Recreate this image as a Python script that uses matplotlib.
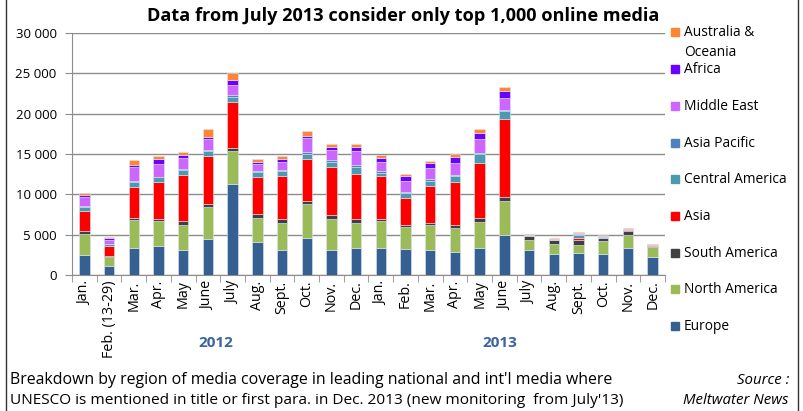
import numpy as np
import matplotlib.pyplot as plt
from matplotlib.patches import Rectangle
from matplotlib.lines import Line2D

plt.rcParams['font.family'] = ['Open Sans', 'DejaVu Sans']

months = ['Jan.', 'Feb. (13-29)', 'Mar.', 'Apr.', 'May', 'June', 'July', 'Aug.',
          'Sept.', 'Oct.', 'Nov.', 'Dec.',
          'Jan.', 'Feb.', 'Mar.', 'Apr.', 'May', 'June', 'July', 'Aug.',
          'Sept.', 'Oct.', 'Nov.', 'Dec.']

# articles per region and month (Jan 2012 .. Dec 2013)
europe = [2500, 1100, 3400, 3600, 3100, 4450, 11300, 4100, 3100, 4600, 3100, 3400,
          3350, 3250, 3100, 2850, 3400, 4900, 3100, 2600, 2700, 2600, 3350, 2200]
north_america = [2550, 1150, 3400, 3100, 3100, 3950, 4050, 3000, 3400, 4200, 3800, 3050,
                 3350, 2650, 3050, 2950, 3200, 4250, 1200, 1250, 1050, 1600, 1600, 1250]
south_america = [400, 100, 300, 300, 450, 400, 450, 400, 450, 400, 550, 500,
                 300, 300, 350, 450, 450, 500, 500, 450, 550, 350, 450, 80]
asia = [2500, 1250, 3850, 4500, 5800, 6000, 5600, 4650, 5300, 5200, 5900, 5600,
        5300, 3400, 4500, 5250, 6800, 9700, 70, 50, 300, 80, 150, 50]
central_america = [500, 200, 600, 600, 600, 600, 650, 600, 600, 600, 650, 850,
                   400, 600, 650, 750, 1100, 950, 30, 30, 400, 50, 50, 50]
asia_pacific = [100, 100, 100, 100, 100, 150, 300, 100, 150, 200, 200, 250,
                200, 150, 200, 200, 150, 150, 20, 20, 50, 30, 30, 30]
middle_east = [1100, 500, 1750, 1600, 1300, 1250, 1250, 900, 1050, 1750, 1350, 1750,
               1050, 1300, 1400, 1450, 1800, 1450, 50, 30, 120, 100, 50, 70]
africa = [250, 130, 250, 600, 400, 300, 600, 250, 300, 250, 300, 500,
          500, 600, 600, 700, 750, 850, 20, 20, 60, 50, 30, 30]
australia = [250, 120, 650, 300, 350, 1050, 850, 400, 400, 600, 450, 300,
             450, 300, 300, 450, 500, 550, 150, 120, 80, 150, 70, 100]

regions = ['Europe', 'North America', 'South America', 'Asia', 'Central America',
           'Asia Pacific', 'Middle East', 'Africa', 'Australia &\nOceania']
series = [europe, north_america, south_america, asia, central_america,
          asia_pacific, middle_east, africa, australia]
colors = ['#376092', '#9BBB59', '#404040', '#FF0000', '#4A9BB0',
          '#4F81BD', '#CC66FF', '#6A00FF', '#FF8533']

fig = plt.figure(figsize=(8.04, 4.11), dpi=100)
ax = fig.add_axes([72 / 804, 1 - 275 / 411, 593 / 804, 242 / 411])

x = np.arange(len(months))
bottom = np.zeros(len(months))
for vals, col in zip(series, colors):
    ax.bar(x, vals, 0.42, bottom=bottom, color=col, edgecolor='#dce6f2', linewidth=0.4, zorder=3)
    bottom += np.array(vals)

ax.set_xlim(-0.5, len(months) - 0.5)
ax.set_ylim(0, 30000)
yt = np.arange(0, 30001, 5000)
ax.set_yticks(yt)
ax.set_yticklabels([f'{v:,}'.replace(',', ' ') for v in yt], fontsize=9.5)
ax.yaxis.grid(True, color='#8c8c8c', linewidth=1)
ax.set_axisbelow(True)

# category labels sit between the boundary tick marks
ax.set_xticks(x)
ax.set_xticklabels(months, rotation=90, fontsize=10.3, va='top')
ax.tick_params(axis='x', length=0, pad=4)
ax.set_xticks(np.arange(-0.5, len(months) + 0.5), minor=True)
ax.tick_params(axis='x', which='minor', length=5, color='#8c8c8c')
ax.tick_params(axis='y', length=5, color='#8c8c8c', pad=6)

for s in ['top', 'right']:
    ax.spines[s].set_visible(False)
for s in ['left', 'bottom']:
    ax.spines[s].set_color('#8c8c8c')

fig.text(403 / 804, 1 - 16 / 411,
         'Data from July 2013 consider only top 1,000 online media',
         fontsize=13.1, fontweight='bold', ha='center', va='center')

fig.text(216 / 804, 1 - 343 / 411, '2012', color='#3A63A0', fontsize=11,
         fontweight='bold', ha='center', va='center')
fig.text(500 / 804, 1 - 343 / 411, '2013', color='#3A63A0', fontsize=11,
         fontweight='bold', ha='center', va='center')

# legend, top entry first
for i, (name, col) in enumerate(zip(regions[::-1], colors[::-1])):
    yc = 1 - (32.5 + i * 36.7) / 411
    fig.patches.append(Rectangle((671 / 804, yc - 4 / 411), 8 / 804, 8 / 411,
                                 transform=fig.transFigure, color=col))
    fig.text(684 / 804, yc + 7 / 411, name, fontsize=9.9, va='top', ha='left',
             linespacing=1.4)

fig.text(10 / 804, 1 - 380 / 411,
         "Breakdown by region of media coverage in leading national and int'l media where",
         fontsize=11.4, va='center')
fig.text(10 / 804, 1 - 400 / 411,
         "UNESCO is mentioned in title or first para. in Dec. 2013 (new monitoring  from July'13)",
         fontsize=11.1, va='center')
fig.text(789 / 804, 1 - 380 / 411, 'Source :', fontsize=10.8, style='italic',
         ha='right', va='center')
fig.text(789 / 804, 1 - 400 / 411, 'Meltwater News', fontsize=10.8, style='italic',
         ha='right', va='center')

fig.lines.append(Line2D([6 / 804, 6 / 804], [0, 1], transform=fig.transFigure,
                        color='#333333', linewidth=1))
fig.lines.append(Line2D([798 / 804, 798 / 804], [0, 1], transform=fig.transFigure,
                        color='#333333', linewidth=1))

fig.savefig('out.png', dpi=100)
